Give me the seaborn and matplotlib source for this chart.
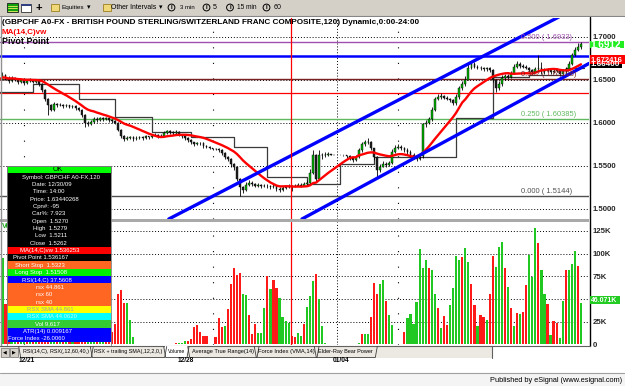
import numpy as np
import pandas as pd
import matplotlib
matplotlib.use("Agg")
import matplotlib.pyplot as plt
from matplotlib.patches import Rectangle, Circle
import seaborn as sns

# ---------------- data (2-hour bars, GBPCHF) ----------------
close = [
    1.6500, 1.6550, 1.6520, 1.6480, 1.6520, 1.6500, 1.6470, 1.6490, 1.6460, 1.6480,
    1.6500, 1.6470, 1.6490, 1.6450, 1.6380, 1.6280, 1.6200, 1.6150, 1.6220, 1.6200,
    1.6210, 1.6190, 1.6200, 1.6180, 1.6190, 1.6170, 1.6150, 1.6090, 1.6000, 1.5980,
    1.6010, 1.6040, 1.6030, 1.6050, 1.6040, 1.6050, 1.6030, 1.6020, 1.6000, 1.5920,
    1.5850, 1.5810, 1.5820, 1.5830, 1.5810, 1.5820, 1.5830, 1.5820, 1.5840, 1.5830,
    1.5850, 1.5860, 1.5840, 1.5850, 1.5880, 1.5900, 1.5890, 1.5880, 1.5890, 1.5860,
    1.5840, 1.5820, 1.5800, 1.5770, 1.5750, 1.5760, 1.5760, 1.5730, 1.5720, 1.5700,
    1.5690, 1.5690, 1.5680, 1.5650, 1.5600, 1.5580, 1.5520, 1.5480, 1.5350, 1.5250,
    1.5220, 1.5280, 1.5300, 1.5290, 1.5270, 1.5280, 1.5260, 1.5270, 1.5260, 1.5250,
    1.5270, 1.5230, 1.5220, 1.5240, 1.5250, 1.5270, 1.5262, 1.5270, 1.5280, 1.5270,
    1.5290, 1.5300, 1.5410, 1.5620, 1.5350, 1.5630, 1.5620, 1.5630, 1.5640, 1.5625,
    1.5625, 1.5625, 1.5625, 1.5620, 1.5610, 1.5590, 1.5570, 1.5600, 1.5680, 1.5750,
    1.5770, 1.5780, 1.5700, 1.5600, 1.5450, 1.5490, 1.5520, 1.5510, 1.5530, 1.5660,
    1.5710, 1.5720, 1.5700, 1.5680, 1.5660, 1.5630, 1.5600, 1.5580, 1.5610, 1.5980,
    1.6000, 1.6040, 1.6150, 1.6280, 1.6300, 1.6310, 1.6290, 1.6280, 1.6260, 1.6230,
    1.6300, 1.6400, 1.6450, 1.6500, 1.6640, 1.6680, 1.6650, 1.6640, 1.6630, 1.6620,
    1.6630, 1.6610, 1.6500, 1.6400, 1.6450, 1.6520, 1.6540, 1.6530, 1.6570, 1.6650,
    1.6680, 1.6660, 1.6650, 1.6640, 1.6610, 1.6590, 1.6620, 1.6640, 1.6590, 1.6600,
    1.6610, 1.6590, 1.6600, 1.6610, 1.6570, 1.6600, 1.6620, 1.6680, 1.6780, 1.6840,
    1.6880, 1.6912]
high = [
    1.6560, 1.6590, 1.6570, 1.6540, 1.6540, 1.6530, 1.6510, 1.6510, 1.6500, 1.6500,
    1.6520, 1.6510, 1.6510, 1.6500, 1.6460, 1.6390, 1.6290, 1.6220, 1.6240, 1.6230,
    1.6230, 1.6220, 1.6220, 1.6210, 1.6210, 1.6200, 1.6180, 1.6160, 1.6100, 1.6020,
    1.6030, 1.6060, 1.6060, 1.6070, 1.6060, 1.6070, 1.6060, 1.6040, 1.6030, 1.6010,
    1.5930, 1.5860, 1.5840, 1.5850, 1.5840, 1.5840, 1.5850, 1.5840, 1.5860, 1.5850,
    1.5870, 1.5880, 1.5870, 1.5870, 1.5900, 1.5920, 1.5910, 1.5900, 1.5910, 1.5900,
    1.5870, 1.5850, 1.5830, 1.5810, 1.5780, 1.5780, 1.5780, 1.5770, 1.5740, 1.5730,
    1.5710, 1.5700, 1.5700, 1.5690, 1.5660, 1.5610, 1.5590, 1.5530, 1.5490, 1.5360,
    1.5270, 1.5310, 1.5340, 1.5320, 1.5300, 1.5300, 1.5290, 1.5290, 1.5290, 1.5280,
    1.5300, 1.5280, 1.5250, 1.5260, 1.5270, 1.5290, 1.5279, 1.5290, 1.5300, 1.5300,
    1.5310, 1.5330, 1.5460, 1.5680, 1.5640, 1.5680, 1.5650, 1.5660, 1.5660, 1.5640,
    1.5630, 1.5630, 1.5630, 1.5630, 1.5630, 1.5620, 1.5600, 1.5620, 1.5700, 1.5780,
    1.5800, 1.5820, 1.5790, 1.5710, 1.5610, 1.5520, 1.5550, 1.5540, 1.5560, 1.5690,
    1.5740, 1.5750, 1.5740, 1.5720, 1.5700, 1.5680, 1.5650, 1.5620, 1.5640, 1.6000,
    1.6030, 1.6070, 1.6180, 1.6300, 1.6330, 1.6340, 1.6320, 1.6310, 1.6290, 1.6270,
    1.6330, 1.6420, 1.6480, 1.6540, 1.6680, 1.6710, 1.6700, 1.6670, 1.6660, 1.6650,
    1.6650, 1.6650, 1.6620, 1.6510, 1.6480, 1.6550, 1.6570, 1.6560, 1.6600, 1.6680,
    1.6720, 1.6700, 1.6680, 1.6670, 1.6650, 1.6620, 1.6650, 1.6790, 1.6700, 1.6630,
    1.6640, 1.6620, 1.6620, 1.6630, 1.6600, 1.6620, 1.6650, 1.6710, 1.6810, 1.6880,
    1.6920, 1.6940]
low = [
    1.6480, 1.6490, 1.6500, 1.6460, 1.6470, 1.6480, 1.6450, 1.6460, 1.6440, 1.6450,
    1.6470, 1.6460, 1.6460, 1.6430, 1.6360, 1.6250, 1.6090, 1.6130, 1.6140, 1.6180,
    1.6190, 1.6170, 1.6180, 1.6170, 1.6170, 1.6150, 1.6130, 1.6070, 1.5950, 1.5960,
    1.5970, 1.6000, 1.6010, 1.6020, 1.6020, 1.6030, 1.6010, 1.6000, 1.5980, 1.5900,
    1.5820, 1.5790, 1.5800, 1.5810, 1.5790, 1.5800, 1.5810, 1.5800, 1.5810, 1.5810,
    1.5820, 1.5840, 1.5820, 1.5830, 1.5840, 1.5870, 1.5870, 1.5860, 1.5870, 1.5840,
    1.5820, 1.5800, 1.5780, 1.5750, 1.5730, 1.5740, 1.5740, 1.5710, 1.5700, 1.5690,
    1.5680, 1.5680, 1.5660, 1.5630, 1.5580, 1.5560, 1.5490, 1.5450, 1.5320, 1.5144,
    1.5180, 1.5210, 1.5260, 1.5270, 1.5250, 1.5250, 1.5240, 1.5250, 1.5240, 1.5230,
    1.5240, 1.5210, 1.5200, 1.5210, 1.5230, 1.5240, 1.5211, 1.5250, 1.5260, 1.5250,
    1.5260, 1.5270, 1.5290, 1.5400, 1.5320, 1.5340, 1.5580, 1.5600, 1.5610, 1.5620,
    1.5620, 1.5620, 1.5620, 1.5610, 1.5590, 1.5570, 1.5540, 1.5560, 1.5590, 1.5660,
    1.5730, 1.5750, 1.5680, 1.5570, 1.5370, 1.5430, 1.5480, 1.5490, 1.5500, 1.5520,
    1.5650, 1.5690, 1.5680, 1.5660, 1.5640, 1.5600, 1.5580, 1.5560, 1.5570, 1.5590,
    1.5950, 1.5980, 1.6020, 1.6130, 1.6260, 1.6280, 1.6270, 1.6260, 1.6240, 1.6200,
    1.6210, 1.6280, 1.6380, 1.6430, 1.6490, 1.6620, 1.6630, 1.6620, 1.6610, 1.6600,
    1.6600, 1.6590, 1.6470, 1.6360, 1.6380, 1.6430, 1.6500, 1.6510, 1.6520, 1.6560,
    1.6640, 1.6640, 1.6630, 1.6620, 1.6590, 1.6570, 1.6580, 1.6600, 1.6570, 1.6570,
    1.6590, 1.6570, 1.6580, 1.6590, 1.6540, 1.6560, 1.6590, 1.6610, 1.6670, 1.6770,
    1.6830, 1.6860]
first_open = 1.6520
volume_k = [
    98, 95, 45, 38, 30, 22, 15, 10, 8, 6,
    5, 8, 12, 30, 55, 62, 70, 48, 40, 35,
    28, 20, 15, 10, 8, 12, 30, 45, 52, 40,
    35, 28, 22, 18, 14, 10, 8, 14, 23, 56,
    60, 46, 46, 27, 8.5, 0, 0, 0, 0, 0,
    0, 0, 0, 0, 0, 0, 0, 0, 1, 2,
    2, 4, 4, 6, 19.5, 21, 13.6, 9, 9, 0,
    0, 8.5, 29, 19.5, 20, 38.6, 66, 84, 76, 79,
    55.5, 54, 32, 11.5, 22.5, 13, 13, 40, 75, 60.7,
    70.6, 61.8, 51.4, 30.5, 25.8, 24, 9.617, 7.8, 12.2, 9.2,
    22.8, 41, 53, 70, 77, 50, 20, 1.5, 0, 0,
    0, 0, 0, 0, 0, 0, 0, 0, 2, 11,
    12, 11, 30, 68, 55, 67, 71, 48, 32, 21,
    0, 0, 0, 13.6, 29.4, 33.5, 23, 46.7, 105, 84,
    92.6, 84.5, 82, 56, 40, 18, 31, 21.7, 43.4, 62,
    97, 93, 96, 106, 91, 66, 43, 20.6, 32, 30,
    27, 55, 97, 85.6, 107.6, 113, 84, 63, 40, 20.6,
    34.6, 34, 36, 65, 98.5, 74.5, 128, 112, 82, 55,
    44.5, 10, 25.8, 24, 7, 48, 82, 82, 89, 103,
    86, 46.071]
vol_dir = ("ggrrggrggr" "grgrrrrggr" "grgrgrrrrg" "ggrggrrrrr" "rrggg-----"
           "--------rg" "ggrrrrrrr-" "-rrrgrrrrr" "ggrrrgggrg" "rrggggrrgg"
           "rgggrggg--" "--------gr" "ggrrrggrgg" "---rgggggg" "grggrgrrgg"
           "ggrggrrgrr" "grrgggrgrg" "rgrrgggrgg" "rgrrggrggg" "rg")
pivot_start = [0, 11, 26, 38, 50, 63, 77, 88, 101, 112, 123, 150, 162, 174, 186, 192]
pivot_value = [1.6355, 1.6450, 1.6280, 1.6070, 1.5895, 1.5837, 1.5714, 1.5365,
               1.5288, 1.5520, 1.5605, 1.6050, 1.6533, 1.6550, 1.6640, 1.6640]
ma_last_label = 1.672416
fib_levels = [1.6933, 1.65108, 1.60385, 1.5144]
fib_labels = ["0.500 ( 1.6933)", "0.382 ( 1.65108)", "0.250 ( 1.60385)", "0.000 ( 1.5144)"]
fib_colors = ["#a050b0", "#7a2020", "#60b860", "#505050"]
resistance_level = 1.6770
crosshair_price = 1.63440268
crosshair_bar = 95.8
upper_channel = [(62.6, 1.50093), (181.8, 1.71915)]
lower_channel = [(125.0, 1.53726), (190.7, 1.66309)]
price_ticks = [1.50, 1.55, 1.60, 1.65, 1.70]
vol_ticks = [0, 25, 50, 75, 100, 125]
vol_tick_labels = ["0", "25K", "50K", "75K", "100K", "125K"]
week_breaks = [8, 70, 131]
year_break = 111
date_labels = ["12/21", "12/28", "01/04"]
tabs = ["RSI(14,C), RSX(,12,60,40,)", "RSX + trailing SMA(,12,2,0,)", "Volume",
        "Average True Range(14)", "Force Index (VMA,14)", "Elder-Ray Bear Power"]
info_rows = [
    ("Symbol: GBPCHF A0-FX,120", "#000000", "white"), ("Date: 12/30/09", "#000000", "white"),
    ("Time: 14:00", "#000000", "white"), ("Price: 1.63440268", "#000000", "white"),
    ("Cpn#: -95", "#000000", "white"), ("Car%: 7.923", "#000000", "white"),
    ("Open  1.5270", "#000000", "white"), ("High  1.5279", "#000000", "white"),
    ("Low  1.5211", "#000000", "white"), ("Close  1.5262", "#000000", "white"),
    ("MA(14,C)vw 1.536253", "#ff0000", "white"), ("Pivot Point 1.536167", "#000000", "white"),
    ("Short Stop  1.5323", "#ff6622", "white"), ("Long Stop  1.51508", "#00ee00", "white"),
    ("RSI(14,C) 37.5608", "#0000ff", "white"), ("rsx 44.861", "#ff6622", "white"),
    ("rsx 60", "#ff6622", "white"), ("rsx 40", "#ff6622", "white"),
    ("RSX SMA 44.861", "#ffff00", "#a0a0a0"), ("RSX SMA 44.0620", "#00ffff", "#c0ffff"),
    ("Vol 9,617", "#33cc33", "white"), ("ATR(14) 0.009167", "#0000ff", "white"),
    ("Force Index -26.0060", "#0000ff", "white")]
info_x = [21.7, 31.7, 33.3, 30, 33.3, 31.7, 31.7, 33.3, 35, 30, 20, 13, 15, 15, 22,
          36, 36, 36, 27, 27, 35, 23, 8]

# ---------------- figure ----------------
sns.set_theme(style="white")
plt.rcParams["font.family"] = ["Liberation Sans", "DejaVu Sans"]
W, H = 625, 386
fig = plt.figure(figsize=(W / 100, H / 100), dpi=100)
fig.patch.set_facecolor("white")

def px2bar(px):
    return (px + 0.6) / 3.045

XL = (px2bar(0), px2bar(589))
axp = fig.add_axes([0, 1 - 219 / H, 589 / W, 202 / H])
axv = fig.add_axes([0, 1 - 345 / H, 589 / W, 123 / H])

n = len(close)
bars = np.arange(n)
df = pd.DataFrame({"bar": bars, "close": close, "high": high, "low": low,
                   "vol": volume_k, "dir": list(vol_dir)})
df["open"] = df["close"].shift(1).fillna(first_open)
df["ma"] = df["close"].rolling(14, min_periods=1).mean()

dot = (0, (1, 2))
# ---- price panel ----
for p in price_ticks:
    axp.axhline(p, color="black", lw=0.7, ls=dot, zorder=1)
for wb in week_breaks:
    axp.axvline(wb, color="black", lw=0.8, ls=(0, (1, 13)), zorder=1)
axp.axvline(year_break, color="black", lw=0.7, ls=dot, zorder=1)
for lv, col in zip(fib_levels, fib_colors):
    axp.axhline(lv, color=col, lw=1.0, zorder=2)
axp.axhline(resistance_level, color="#0000ff", lw=1.8, zorder=2)
axp.axhline(crosshair_price, color="#ff0000", lw=0.9, zorder=2)

pv = pd.DataFrame({"bar": pivot_start, "pivot": pivot_value})
sns.lineplot(data=pv, x="bar", y="pivot", drawstyle="steps-post", color="#3a3a3a",
             lw=0.9, ax=axp, estimator=None, sort=False, zorder=2)

up = df["close"] >= df["open"]
axp.vlines(df["bar"], df["low"], df["high"], color="black", lw=0.6, zorder=3)
body_lo = np.minimum(df["open"], df["close"])
body_h = np.maximum(np.abs(df["close"] - df["open"]), 0.0004)
axp.bar(df["bar"], body_h, bottom=body_lo, width=0.56,
        color=np.where(up, "#00b400", "#202020"), edgecolor="black", lw=0.3, zorder=3)

sns.lineplot(data=df, x="bar", y="ma", color="#ff0000", lw=1.7, ax=axp, zorder=4)
axp.axline(upper_channel[0], upper_channel[1], color="#0000ff", lw=2.4, zorder=5)
axp.axline(lower_channel[0], lower_channel[1], color="#0000ff", lw=2.4, zorder=5)
axp.axvline(crosshair_bar, color="#ff0000", lw=0.9, zorder=6)

for lv, lab, col in zip(fib_levels, fib_labels, fib_colors):
    axp.text(px2bar(521), lv + 0.0012, lab, color=col, fontsize=5.4, ha="left",
             va="bottom", zorder=6)

axp.set_xlim(*XL)
axp.set_ylim(1.48816, 1.722635)
axp.yaxis.tick_right()
axp.set_yticks(price_ticks)
axp.set_yticklabels([f"{p:.4f}" for p in price_ticks])
axp.tick_params(axis="y", length=0, pad=2.6, labelsize=5.6)
axp.set_xticks([])
axp.set_xlabel(""); axp.set_ylabel("")
for lab in axp.get_yticklabels():
    lab.set_fontweight("bold")
for s in axp.spines.values():
    s.set_visible(False)

# ---- volume panel ----
for v in vol_ticks[1:]:
    axv.axhline(v, color="black", lw=0.7, ls=dot, zorder=0)
for wb in week_breaks:
    axv.axvline(wb, color="black", lw=0.8, ls=(0, (1, 13)), zorder=0)
axv.axvline(year_break, color="black", lw=0.7, ls=dot, zorder=0)
vd = df[df["vol"] > 0]
sns.barplot(data=vd, x="bar", y="vol", hue="dir", palette={"g": "#22c822", "r": "#ff1a1a"},
            native_scale=True, dodge=False, width=0.72, errorbar=None, saturation=1,
            legend=False, linewidth=0, ax=axv)
axv.axvline(crosshair_bar, color="#ff0000", lw=0.9, zorder=6)
axv.set_xlim(*XL)
axv.set_ylim(-0.66, 134.8)
axv.yaxis.tick_right()
axv.set_yticks(vol_ticks)
axv.set_yticklabels(vol_tick_labels)
axv.tick_params(axis="y", length=0, pad=2.6, labelsize=5.6)
axv.set_xticks([])
axv.set_xlabel(""); axv.set_ylabel("")
for lab in axv.get_yticklabels():
    lab.set_fontweight("bold")
for s in axv.spines.values():
    s.set_visible(False)

# ---------------- overlay (chrome, labels, info box) ----------------
ov = fig.add_axes([0, 0, 1, 1])
ov.set_xlim(0, W); ov.set_ylim(H, 0); ov.axis("off")
ov.patch.set_alpha(0)
rend = fig.canvas.get_renderer()

def put(x, y, s, w=None, fs=6, ha="left", va="center", **kw):
    t = ov.text(x, y, s, fontsize=fs, ha=ha, va=va, **kw)
    if w is not None:
        bw = t.get_window_extent(renderer=rend).width
        if bw > 0:
            t.set_fontsize(fs * w / bw)
    return t

def ypx_price(p):
    return H - axp.transData.transform((0, p))[1]

def ypx_vol(v):
    return H - axv.transData.transform((0, v))[1]

# toolbar
ov.add_patch(Rectangle((0, 0), W, 15.5, facecolor="#d4d0c8", edgecolor="none"))
ov.plot([0, W], [15.5, 15.5], color="#808080", lw=0.8)
ov.plot([0, W], [16.5, 16.5], color="#ffffff", lw=0.8)
ov.add_patch(Rectangle((6.5, 3), 11, 9, facecolor="#10a010", edgecolor="#202020", lw=0.6))
for yy in (5.5, 8, 10.5):
    ov.plot([7.5, 16.5], [yy, yy], color="#f0f060", lw=0.6)
ov.add_patch(Rectangle((21, 3.5), 10, 8, facecolor="#ffffff", edgecolor="#303030", lw=0.6))
ov.add_patch(Rectangle((21, 3.5), 10, 2.2, facecolor="#304080", edgecolor="none"))
put(38.5, 7.5, "+", fs=8, ha="center", fontweight="bold", color="black")
for fx0 in (50.5, 102.5):
    ov.add_patch(Rectangle((fx0, 4), 8.5, 7, facecolor="#f0d878", edgecolor="#9c8020", lw=0.6))
put(62, 7.8, "Equities", w=23, fs=6, color="black")
put(89, 7.5, "▾", fs=5, ha="center", color="black")
put(111, 7.8, "Other Intervals", w=46, fs=6, color="black")
put(161, 7.5, "▾", fs=5, ha="center", color="black")
for cx, lab, x0, wl in [(171.5, "3 min", 180, 15), (206.5, "5", 213, 4),
                        (230, "15 min", 237, 20), (266.5, "60", 274, 8)]:
    ov.add_patch(Circle((cx, 7.5), 3.4, facecolor="none", edgecolor="black", lw=0.7))
    put(cx, 7.6, "I", fs=4.5, ha="center", color="black", fontweight="bold")
    put(x0, 7.8, lab, w=wl, fs=6, color="black")

# panel separator / borders
ov.add_patch(Rectangle((0, 219), 589, 3, facecolor="#a9a9a9", edgecolor="none"))
ov.plot([589.5, 589.5], [16.5, 346], color="black", lw=1.0)
ov.plot([0.5, 0.5], [16.5, 346], color="#909090", lw=1.0)

# titles
put(2, 22.5, "(GBPCHF A0-FX - BRITISH POUND STERLING/SWITZERLAND FRANC COMPOSITE,120) Dynamic,0:00-24:00",
    w=420, fs=6, color="black", fontweight="bold")
put(2, 32, "MA(14,C)vw", w=46, fs=6, color="#ff0000", fontweight="bold")
put(2, 41, "Pivot Point", w=47, fs=6, color="black", fontweight="bold")
put(1.5, 227, "Volume", fs=5.5, color="#22aa22", fontweight="bold")

# right-side value boxes
def value_box(yc, txt, bg, x0=589.5, x1=623.5, h=8.0):
    ov.add_patch(Rectangle((x0, yc - h / 2), x1 - x0, h, facecolor=bg, edgecolor="none", zorder=5))
    put(x0 + 1.2, yc + 0.3, txt, w=x1 - x0 - 3, fs=6, color="white", fontweight="bold", zorder=6)

value_box(ypx_price(ma_last_label) + 4.0, f"{pivot_value[-1]:.5f}", "#000000", x1=622)
value_box(ypx_price(ma_last_label) - 0.5, f"{ma_last_label:.6f}", "#ff0000", x1=625, h=8.6)
value_box(ypx_price(close[-1]) + 0.5, f"{close[-1]:.4f}", "#22ee22", h=7.4)
value_box(ypx_vol(volume_k[-1]) - 2.5, f"{volume_k[-1]:.3f}K", "#22cc22", x1=619.5)

# info box
row_h = 7.36
top0 = 176.7
ov.add_patch(Rectangle((6.7, top0 - row_h / 2 - 7), 104, 7, facecolor="#00ff00",
                       edgecolor="#404040", lw=0.5, zorder=7))
put(58, top0 - row_h / 2 - 3.3, "OK", fs=5, ha="center", color="black", zorder=8)
probe = put(100, 100, info_rows[0][0], w=80, fs=6)
fs_box = probe.get_fontsize()
probe.remove()
for k, ((txt, bg, fg), x0) in enumerate(zip(info_rows, info_x)):
    yc = top0 + k * row_h
    ov.add_patch(Rectangle((6.7, yc - row_h / 2), 104, row_h, facecolor=bg,
                           edgecolor="none", zorder=7))
    put(x0, yc + 0.3, txt, fs=fs_box, color=fg, zorder=8)
ov.plot([6.7, 6.7, 110.7, 110.7], [346, top0 - row_h / 2 - 7, top0 - row_h / 2 - 7, 346],
        color="#808080", lw=0.6, zorder=8)

# tab strip
ov.add_patch(Rectangle((0, 346), 492, 12, facecolor="#ece9e2", edgecolor="none", zorder=9))
ov.plot([0, 589.5], [346, 346], color="#606060", lw=0.8, zorder=10)
ov.plot([492, 492], [346, 358], color="#606060", lw=0.8, zorder=10)
for bx, g in [(1, "◀"), (10, "▶")]:
    ov.add_patch(Rectangle((bx, 347.5), 8, 9, facecolor="#d4d0c8", edgecolor="#707070",
                           lw=0.5, zorder=10))
    put(bx + 4, 352, g, fs=3.5, ha="center", color="black", zorder=11)
tab_x = [(22.7, 89.3), (94.3, 162.7), (167.7, 185), (191.7, 255), (258.3, 315), (318.3, 373.3)]
for (a, b), t in zip(tab_x, tabs):
    if t == "Volume":
        ov.add_patch(Rectangle((a - 3, 346), b - a + 6, 11.5, facecolor="white",
                               edgecolor="none", zorder=10))
    ov.plot([a - 4, a - 2, b + 2, b + 4], [346.5, 357.5, 357.5, 346.5], color="#404040",
            lw=0.6, zorder=11)
    put(a, 351.5, t, w=b - a, fs=6, color="black", zorder=12)

# dates
for xc, lab in zip([26.7, 186, 341], date_labels):
    put(xc, 361, lab, w=16.5, fs=7, ha="center", color="black", fontweight="bold", zorder=12)

# bottom bar
ov.add_patch(Rectangle((0, 373), W, 13, facecolor="#f4f4f4", edgecolor="none", zorder=12))
ov.plot([0, W], [373, 373], color="#a0a0a0", lw=0.8, zorder=13)
put(622, 380.5, "Published by eSignal (www.esignal.com)", w=134, fs=6, ha="right",
    color="black", zorder=13)

fig.savefig("out.png", dpi=100)
